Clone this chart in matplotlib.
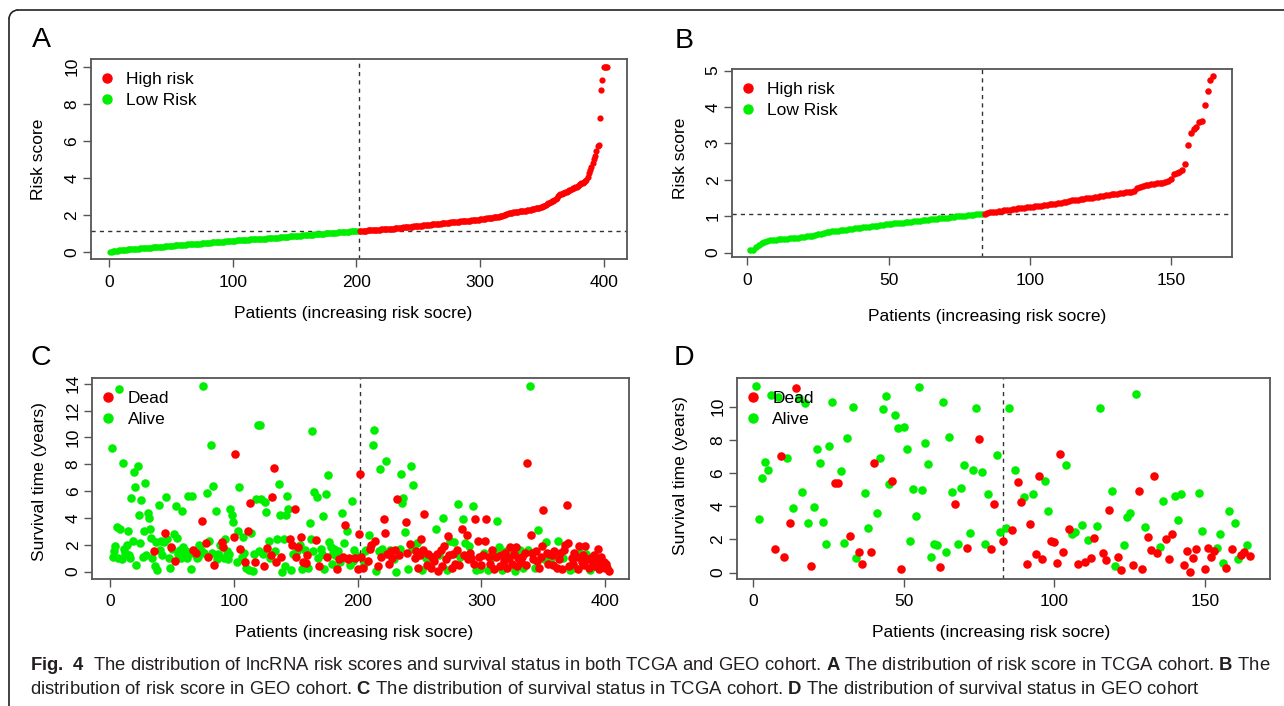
import matplotlib
matplotlib.use("Agg")
import matplotlib.pyplot as plt
from matplotlib.patches import Arc
from matplotlib.lines import Line2D
import numpy as np

# ======================================================================
# DATA
# ======================================================================

# A - TCGA cohort, sorted risk scores
tcga_low_risk = [
    0.02, 0.04, 0.05, 0.06, 0.07, 0.08, 0.09, 0.10, 0.11, 0.12,
    0.13, 0.13, 0.14, 0.14, 0.15, 0.15, 0.16, 0.16, 0.17, 0.17, 0.18, 0.19, 0.19, 0.20, 0.21,
    0.21, 0.22, 0.22, 0.23, 0.23, 0.24, 0.24, 0.25, 0.25, 0.26, 0.26, 0.27, 0.28, 0.28, 0.29,
    0.29, 0.30, 0.31, 0.31, 0.32, 0.32, 0.33, 0.34, 0.34, 0.35,
    0.36, 0.36, 0.37, 0.37, 0.38, 0.38, 0.39, 0.39, 0.40, 0.40, 0.41, 0.41, 0.42, 0.42, 0.43,
    0.43, 0.44, 0.44, 0.45, 0.45, 0.46, 0.46, 0.47, 0.47, 0.48,
    0.49, 0.49, 0.50, 0.50, 0.51, 0.51, 0.52, 0.53, 0.53, 0.54, 0.54, 0.55, 0.55, 0.56, 0.57,
    0.57, 0.58, 0.58, 0.59, 0.59, 0.60, 0.60, 0.61, 0.61, 0.62,
    0.63, 0.63, 0.64, 0.64, 0.65, 0.65, 0.66, 0.66, 0.67, 0.67, 0.67, 0.68, 0.68, 0.69, 0.69,
    0.70, 0.70, 0.70, 0.71, 0.71, 0.72, 0.72, 0.72, 0.73, 0.73,
    0.74, 0.74, 0.75, 0.75, 0.76, 0.76, 0.77, 0.77, 0.78, 0.78, 0.79, 0.79, 0.80, 0.80, 0.81,
    0.81, 0.82, 0.82, 0.83, 0.84, 0.85, 0.85, 0.86, 0.87, 0.88,
    0.88, 0.89, 0.89, 0.90, 0.90, 0.91, 0.91, 0.92, 0.92, 0.93, 0.93, 0.94, 0.94, 0.95, 0.95,
    0.96, 0.96, 0.97, 0.97, 0.98, 0.99, 0.99, 1.00, 1.01, 1.02,
    1.02, 1.03, 1.03, 1.04, 1.04, 1.05, 1.05, 1.06, 1.06, 1.07, 1.07, 1.08, 1.08, 1.09, 1.09,
    1.10, 1.10, 1.11, 1.11, 1.12, 1.12, 1.12, 1.13, 1.13, 1.13, 1.14, 1.14,
]
tcga_high_risk = [
    1.15, 1.15, 1.16, 1.16, 1.17, 1.17, 1.18, 1.18, 1.19, 1.19, 1.20, 1.20, 1.21, 1.21, 1.21,
    1.22, 1.22, 1.23, 1.23, 1.24, 1.24, 1.25, 1.25,
    1.26, 1.26, 1.27, 1.28, 1.28, 1.29, 1.30, 1.30, 1.31, 1.32, 1.32, 1.33, 1.34, 1.34, 1.35,
    1.36, 1.36, 1.37, 1.38, 1.38, 1.39, 1.40, 1.40, 1.41, 1.42,
    1.43, 1.43, 1.44, 1.45, 1.46, 1.46, 1.47, 1.48, 1.49, 1.49, 1.50, 1.51, 1.52, 1.52, 1.53,
    1.54, 1.55, 1.55, 1.56, 1.57, 1.57, 1.58, 1.59, 1.59, 1.60,
    1.61, 1.61, 1.62, 1.63, 1.63, 1.64, 1.65, 1.65, 1.66, 1.67, 1.67, 1.68, 1.69, 1.69, 1.70,
    1.71, 1.71, 1.72, 1.73, 1.73, 1.74, 1.75, 1.75, 1.76, 1.77,
    1.78, 1.79, 1.80, 1.81, 1.82, 1.83, 1.84, 1.85, 1.86, 1.87, 1.88, 1.89, 1.90, 1.91, 1.92,
    1.94, 1.96, 1.98, 2.00, 2.02, 2.05, 2.07, 2.09, 2.11, 2.13,
    2.14, 2.15, 2.16, 2.17, 2.18, 2.19, 2.20, 2.21, 2.22, 2.23, 2.24, 2.25, 2.26, 2.27, 2.28,
    2.30, 2.31, 2.33, 2.34, 2.36, 2.37, 2.39, 2.41, 2.43, 2.45,
    2.48, 2.52, 2.56, 2.60, 2.63, 2.67, 2.71, 2.74, 2.78, 2.81, 2.88, 2.95, 3.02, 3.08, 3.12,
    3.16, 3.19, 3.22, 3.25, 3.27, 3.30, 3.33, 3.36, 3.40, 3.44,
    3.47, 3.50, 3.54, 3.58, 3.62, 3.66, 3.71, 3.75, 3.80, 3.85, 3.92, 4.05, 4.25, 4.42, 4.60,
    4.80, 5.00, 5.20, 5.48, 5.74, 5.78, 7.26, 8.73, 9.27, 10.0, 10.0, 10.0, 10.0,
]
tcga_cutoff = 1.147

# B - GEO cohort, sorted risk scores
geo_low_risk = [
    0.06, 0.08, 0.16, 0.22, 0.27, 0.29, 0.31, 0.33, 0.34, 0.35,
    0.36, 0.36, 0.37, 0.38, 0.39, 0.40, 0.40, 0.41, 0.42, 0.43,
    0.44, 0.45, 0.46, 0.48, 0.50, 0.52, 0.54, 0.55, 0.57, 0.58,
    0.59, 0.60, 0.61, 0.62, 0.63, 0.64, 0.65, 0.66, 0.67, 0.68,
    0.69, 0.70, 0.71, 0.72, 0.73, 0.74, 0.75, 0.76, 0.77, 0.78,
    0.79, 0.80, 0.81, 0.81, 0.82, 0.83, 0.84, 0.85, 0.86, 0.86,
    0.87, 0.88, 0.89, 0.90, 0.91, 0.92, 0.93, 0.94, 0.95, 0.95,
    0.96, 0.97, 0.98, 0.99, 1.00, 1.01, 1.01, 1.02, 1.03, 1.04,
    1.05, 1.05, 1.06,
]
geo_high_risk = [
    1.07, 1.08, 1.10, 1.11, 1.12, 1.14, 1.15, 1.16, 1.17, 1.18, 1.19, 1.20, 1.21, 1.22, 1.23,
    1.24, 1.25,
    1.26, 1.27, 1.28, 1.29, 1.30, 1.31, 1.32, 1.33, 1.34, 1.36, 1.37, 1.38, 1.40, 1.41, 1.43,
    1.44, 1.45, 1.46, 1.48, 1.49,
    1.50, 1.51, 1.52, 1.53, 1.55, 1.56, 1.57, 1.58, 1.60, 1.61, 1.62, 1.63, 1.64, 1.65, 1.66,
    1.67, 1.68,
    1.78, 1.81, 1.83, 1.85, 1.86, 1.88, 1.89, 1.90, 1.91, 1.92, 1.94, 1.97, 2.03,
    2.15, 2.18, 2.22, 2.27, 2.44, 2.95, 3.29, 3.38, 3.44, 3.58, 3.62, 4.06, 4.44, 4.73, 4.85,
]
geo_cutoff = 1.065

# C - TCGA survival time (years), patients in order of increasing risk
tcga_time = [
    9.2, 1.1, 1.5, 1.9, 3.35, 1.0, 13.6, 3.2, 0.9, 8.1, 1.7, 1.4, 2.0, 3.0, 1.2, 1.0, 5.5, 2.3, 7.4, 6.3,
    0.5, 7.9, 4.2, 2.1, 5.3, 1.1, 3.0, 6.6, 1.2, 4.4, 4.0, 3.2, 2.5, 1.0, 1.5, 0.4, 2.2, 0.1, 4.95, 1.6,
    2.3, 1.2, 2.2, 2.85, 5.55, 2.4, 1.0, 0.3, 1.8, 1.7, 2.8, 0.8, 4.9, 2.5, 1.3, 1.6, 1.0, 4.5, 1.8, 1.2,
    1.5, 1.0, 5.6, 1.4, 0.2, 5.6, 1.6, 1.3, 1.4, 1.0, 1.1, 2.0, 1.6, 3.75, 13.85, 1.4, 2.1, 5.85, 1.1, 2.3,
    9.4, 1.4, 6.4, 0.5, 4.5, 0.9, 1.3, 1.2, 2.0, 2.2, 1.8, 1.0, 2.4, 1.5, 0.9, 1.3, 4.7, 4.25, 3.7, 2.55,
    8.75, 0.7, 3.0, 6.3, 1.7, 1.1, 2.6, 1.4, 0.7, 0.3, 3.0, 0.1, 5.1, 2.85, 0.05, 1.3, 0.7, 5.4, 10.9, 1.5,
    10.9, 5.4, 1.3, 0.45, 5.2, 4.45, 1.75, 2.3, 1.0, 1.2, 5.55, 7.75, 1.5, 0.7, 2.4, 6.5, 4.25, 1.1, 0.0, 2.4,
    0.4, 4.2, 5.6, 4.7, 2.45, 0.1, 2.0, 1.3, 4.7, 1.1, 1.5, 1.8, 2.0, 2.55, 0.2, 0.7, 1.6, 0.65, 1.25, 0.3,
    3.65, 2.4, 10.45, 1.5, 5.95, 2.35, 5.55, 1.0, 0.4, 1.7, 1.3, 4.15, 0.2, 5.8, 1.05, 7.2, 2.2, 1.8, 0.6, 1.4,
    1.7, 1.2, 0.2, 1.5, 0.9, 0.7, 4.35, 1.1, 2.1, 3.5, 3.0, 0.95, 1.0, 0.5, 5.25, 0.8, 1.6, 1.0, 1.2, 0.2,
    2.8, 7.25,
    1.1, 0.25, 0.6, 1.5, 1.6, 0.8, 2.75, 1.7, 2.0, 9.4, 10.55, 2.3, 0.05, 0.45, 1.5, 7.65, 1.1, 1.7, 3.9, 2.9,
    8.25, 1.3, 0.6, 1.6, 1.5, 1.0, 0.9, 1.6, 0.0, 5.4, 1.2, 1.7, 7.3, 5.1, 5.5, 2.95, 3.7, 1.4, 0.2, 2.05,
    7.9, 1.7, 6.45, 1.0, 1.5, 2.15, 0.3, 1.2, 2.4, 0.1, 1.6, 4.3, 1.0, 0.5, 1.3, 1.1, 0.3, 1.1, 1.0, 0.8,
    3.2, 1.3, 0.05, 1.2, 1.6, 0.4, 4.0, 1.9, 0.9, 0.15, 2.65, 1.2, 2.3, 0.3, 1.3, 2.2, 0.6, 1.6, 5.05, 0.5,
    1.1, 3.15, 3.95, 1.2, 2.1, 2.75, 0.9, 1.9, 1.4, 1.0, 4.85, 0.6, 3.9, 0.1, 2.3, 1.1, 0.2, 0.5, 1.2, 1.4,
    2.3, 3.9, 0.1, 1.1, 0.6, 1.0, 1.6, 0.2, 1.3, 1.1, 3.75, 1.8, 0.4, 1.2, 0.1, 0.8, 1.4, 1.5, 0.3, 1.0,
    1.8, 1.2, 0.6, 1.3, 0.05, 1.85, 0.4, 1.0, 1.6, 0.7, 1.1, 0.3, 1.4, 0.5, 8.1, 1.6, 13.8, 2.7, 1.4, 0.9,
    0.3, 1.5, 0.8, 3.1, 0.3, 1.1, 1.9, 4.6, 0.9, 2.2, 1.4, 0.6, 1.3, 1.0, 1.2, 0.5, 1.5, 1.3, 0.3, 2.3,
    0.9, 1.4, 0.2, 1.0, 1.6, 2.0, 4.95, 2.15, 0.4, 0.1, 1.0, 0.6, 1.4, 0.3, 1.1, 0.2, 1.9, 1.4, 0.7, 1.2,
    0.5, 1.9, 1.3, 0.9, 0.3, 0.1, 1.0, 0.6, 1.2, 0.4, 0.9, 1.65, 0.2, 0.8, 1.1, 0.4, 0.7, 0.3, 0.6, 0.3,
    0.05,
]
# D = dead, A = alive
tcga_status = (
    "AAAAAAAAAAAAAAAAAAAA" "AAAAAAAAAAAAAADAAAAA" "AAADAAAADAADAAAAAAAA" "AAAAAADADAAAADAADADA"
    "AAADAAAAADDAAAAAAAAD" "DAAADAAADADADAAADAAA" "AAADAADAADDDADAAADAA" "AAAADADADDADADADADDA"
    "AAAAADAADAAAAADAAAAA" "AADADAADADADDAAAADADDD"
    "DDAAADADDAADADAADADD" "ADDADDADADDAAAAADDAD" "AAADDADDDADDADDADDAD" "ADDADDADDADDADDADDAD"
    "ADADADDADDADDADDADDA" "DDADDADDADAADDADDADD" "DADDADDDADDADDDAADDD" "ADDADDDDAADDDADDDADA"
    "DDDADDDDDADDDADDDADD" "DDADDADDDDDDDDDDDDDDD"
)

# D - GEO survival time (years)
geo_time = [
    11.26, 3.25, 5.68, 6.69, 6.19, 10.7, 1.45, 10.6, 7.03, 0.91,
    6.89, 2.97, 3.88, 11.1, 10.5, 4.88, 10.2, 2.99, 0.4, 3.96,
    7.45, 6.59, 3.05, 1.73, 7.63, 10.3, 5.42, 5.42, 6.15, 1.81,
    8.09, 2.19, 9.96, 0.87, 1.25, 0.52, 4.78, 2.67, 1.25, 6.63,
    3.58, 6.89, 9.88, 10.66, 5.34, 5.52, 9.52, 8.72, 0.24, 8.76,
    7.45, 1.91, 5.02, 3.42, 11.2, 5.0, 7.83, 6.53, 0.95, 1.71,
    1.68, 0.34, 10.3, 1.25, 8.19, 4.84, 4.14, 1.71, 5.08, 6.47,
    1.51, 2.39, 6.17, 9.92, 8.05, 6.09, 1.75, 4.74, 1.45, 4.12,
    7.09, 2.47, 1.93,
    2.71, 9.94, 2.59, 6.19, 5.44, 4.24, 4.54, 0.5, 2.93, 4.74,
    1.13, 5.83, 0.84, 5.5, 3.74, 1.93, 1.87, 0.57, 7.15, 1.25,
    6.49, 2.61, 2.31, 2.43, 0.5, 2.85, 0.66, 1.95, 0.9, 2.11,
    2.79, 9.92, 1.17, 0.75, 3.78, 4.94, 0.4, 0.96, 0.14, 1.69,
    3.37, 3.61, 0.46, 10.75, 4.92, 0.24, 2.75, 2.15, 1.35, 5.83,
    1.2, 1.55, 4.34, 2.03, 0.84, 2.35, 4.62, 3.17, 4.74, 0.45,
    1.31, 0.06, 0.87, 1.45, 4.82, 2.51, 0.24, 1.49, 0.95, 1.27,
    1.47, 2.31, 0.57, 0.3, 3.7, 1.39, 3.01, 0.81, 1.05, 1.25,
    1.67, 1.0,
]
geo_status = (
    "AAAAAADADD" "ADADAAAADA" "AAAAAADDAA" "ADAADDAADD" "AAAAADAADA"
    "AAAAAAAAAA" "ADAAAADAAA" "DAAADAAADD" "AAD"
    "AADADDADDA" "DDDAADDDDD" "ADAADADADD" "AADDDAADDA" "AADADDADDD"
    "DAADDDAAAD" "DDDDAADDDD" "AAADADAADD" "AD"
)

RED = "#FF0000"
GREEN = "#00EE00"
BOX = "#555555"

plt.rcParams["font.family"] = ["Liberation Sans", "DejaVu Sans"]
plt.rcParams["mathtext.fontset"] = "custom"
plt.rcParams["mathtext.rm"] = "Liberation Sans"
plt.rcParams["mathtext.bf"] = "Liberation Sans:bold"

W, H = 1284, 706


def r_lim(vals):
    # R style axis range: data range plus 4% on each side
    lo, hi = min(vals), max(vals)
    pad = 0.04 * (hi - lo)
    return lo - pad, hi + pad


def box_axes(fig, left, top, right, bottom):
    return fig.add_axes([left / W, 1 - bottom / H, (right - left) / W, (bottom - top) / H])


def style(ax, xticks, yticks, ylabel, xlab_xy, ylab_xy):
    for sp in ax.spines.values():
        sp.set_color(BOX)
        sp.set_linewidth(1.3)
    ax.set_xticks(xticks)
    ax.set_yticks(yticks)
    ax.tick_params(axis="both", direction="out", length=6, width=1.0, color=BOX,
                   labelsize=12.5, labelcolor="black")
    ax.tick_params(axis="x", pad=5)
    ax.tick_params(axis="y", pad=2)
    for lbl in ax.get_yticklabels():
        lbl.set_rotation(90)
        lbl.set_va("center")
    ax.set_xlabel("Patients (increasing risk socre)", fontsize=12.5, va="center")
    ax.set_ylabel(ylabel, fontsize=12.5, va="center")
    ax.xaxis.set_label_coords(*xlab_xy)
    ax.yaxis.set_label_coords(*ylab_xy)


def legend(ax, labels, colors, anchor):
    handles = [Line2D([], [], ls="none", marker="o", markersize=6.5, color=c) for c in colors]
    ax.legend(handles, labels, loc="upper left", bbox_to_anchor=anchor, frameon=False,
              fontsize=12.5, borderpad=0, borderaxespad=0, handlelength=0.8,
              handletextpad=0.7, labelspacing=0.3)


def risk_panel(ax, low, high, cutoff, xticks, yticks, xlab_xy, ylab_xy, anchor, size):
    n_low = len(low)
    x_low = np.arange(1, n_low + 1)
    x_high = np.arange(n_low + 1, n_low + len(high) + 1)
    ax.scatter(x_low, low, s=size, color=GREEN, linewidths=0, zorder=3)
    ax.scatter(x_high, high, s=size, color=RED, linewidths=0, zorder=3)
    ax.axvline(n_low, color="#333333", lw=1, ls=(0, (3, 3)))
    ax.axhline(cutoff, color="#333333", lw=1, ls=(0, (3, 3)))
    ax.set_xlim(*r_lim([1, n_low + len(high)]))
    ax.set_ylim(*r_lim(list(low) + list(high)))
    style(ax, xticks, yticks, "Risk score", xlab_xy, ylab_xy)
    legend(ax, ["High risk", "Low Risk"], [RED, GREEN], anchor)


def surv_panel(ax, times, status, n_low, xticks, yticks, xlab_xy, ylab_xy, anchor):
    times = np.array(times)
    x = np.arange(1, len(times) + 1)
    dead = np.array([s == "D" for s in status])
    ax.scatter(x[~dead], times[~dead], s=38, color=GREEN, linewidths=0, zorder=3)
    ax.scatter(x[dead], times[dead], s=38, color=RED, linewidths=0, zorder=3)
    ax.axvline(n_low, color="#333333", lw=1, ls=(0, (3, 3)))
    ax.set_xlim(*r_lim([1, len(times)]))
    ax.set_ylim(*r_lim(times))
    style(ax, xticks, yticks, "Survival time (years)", xlab_xy, ylab_xy)
    legend(ax, ["Dead", "Alive"], [RED, GREEN], anchor)


fig = plt.figure(figsize=(W / 100, H / 100), dpi=100)

# background layer in pixel units: frame, panel letters, caption
bg = fig.add_axes([0, 0, 1, 1], zorder=-5)
bg.set_xlim(0, W)
bg.set_ylim(H, 0)
bg.axis("off")
r = 9
bg.plot([9, 9], [10 + r, H + 5], color="#222222", lw=1.2)
bg.plot([9 + r, W + 5], [10, 10], color="#222222", lw=1.2)
bg.add_patch(Arc((9 + r, 10 + r), 2 * r, 2 * r, theta1=180, theta2=270, color="#222222", lw=1.2))

for letter, (lx, ly) in zip("ABCD", [(41, 40), (684, 41), (41, 358), (684, 358)]):
    bg.text(lx, ly, letter, fontsize=20.5, ha="center", va="center")

cap_kw = dict(fontsize=13.35, color="#231F20", ha="left", va="baseline")
bg.text(30, 670, r"$\mathbf{Fig.\ 4}$  The distribution of lncRNA risk scores and survival status in both "
        r"TCGA and GEO cohort. $\mathbf{A}$ The distribution of risk score in TCGA cohort. $\mathbf{B}$ The",
        **cap_kw)
bg.text(30, 694, r"distribution of risk score in GEO cohort. $\mathbf{C}$ The distribution of survival status "
        r"in TCGA cohort. $\mathbf{D}$ The distribution of survival status in GEO cohort", **cap_kw)

# A
ax_a = box_axes(fig, 90.6, 59.3, 627.3, 259.3)
risk_panel(ax_a, tcga_low_risk, tcga_high_risk, tcga_cutoff, [0, 100, 200, 300, 400],
           [0, 2, 4, 6, 8, 10], (0.49, -0.27), (-0.0965, 0.50), (0.018, 0.935), 20)

# B
ax_b = box_axes(fig, 731.8, 69, 1231.8, 257.3)
risk_panel(ax_b, geo_low_risk, geo_high_risk, geo_cutoff, [0, 50, 100, 150],
           [0, 1, 2, 3, 4, 5], (0.51, -0.315), (-0.102, 0.526), (0.019, 0.93), 22)

# C
ax_c = box_axes(fig, 91.8, 378.3, 628.6, 579)
surv_panel(ax_c, tcga_time, tcga_status, len(tcga_low_risk), [0, 100, 200, 300, 400],
           [0, 2, 4, 6, 8, 10, 12, 14], (0.488, -0.268), (-0.097, 0.485), (0.018, 0.935))

# D
ax_d = box_axes(fig, 736.7, 378.3, 1269.8, 579)
surv_panel(ax_d, geo_time, geo_status, len(geo_low_risk), [0, 50, 100, 150],
           [0, 2, 4, 6, 8, 10], (0.477, -0.268), (-0.105, 0.514), (0.018, 0.935))

fig.savefig("out.png", dpi=100)
